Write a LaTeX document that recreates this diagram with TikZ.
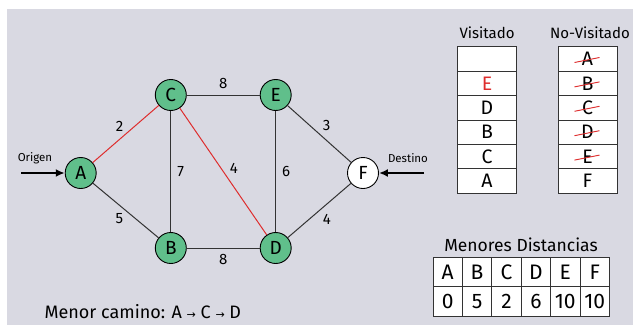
\documentclass[tikz,border=0pt]{standalone}
\usepackage{fontspec}
\setmainfont{Fira Sans}
\newfontfamily\symfont{DejaVu Sans}
\usetikzlibrary{arrows.meta}
\definecolor{bgray}{RGB}{217,217,226}
\definecolor{vgreen}{RGB}{96,191,139}
\definecolor{pathred}{RGB}{222,45,45}
\tikzset{
  vertex/.style={circle, draw=black, line width=0.9pt, fill=vgreen, minimum size=31pt, inner sep=0pt, font=\fontsize{19}{19}\selectfont},
  edge/.style={line width=1pt, draw=black!80},
  redge/.style={line width=1pt, draw=pathred},
  weight/.style={font=\fontsize{15}{15}\selectfont, inner sep=1pt},
  cell/.style={draw=black!80, line width=0.9pt, fill=white, minimum width=59pt, minimum height=24.5pt, inner sep=0pt, font=\fontsize{19.5}{19.5}\selectfont},
  dcell/.style={draw=black!80, line width=0.9pt, fill=white, minimum width=29.4pt, minimum height=29.5pt, inner sep=0pt, font=\fontsize{21}{21}\selectfont},
  strike/.style={line width=0.9pt, draw=pathred},
  ioarrow/.style={line width=2.2pt, -{Latex[length=9pt,width=8pt]}},
}
\begin{document}
\begin{tikzpicture}[x=1pt, y=-1pt]
	%%%%% START %%%%%
	\useasboundingbox (0,0) rectangle (633,327);
	\fill[bgray] (7,9) rectangle (633,325);

	% graph
	\node[vertex] (A) at (80.7,173) {A};
	\node[vertex] (C) at (170.8,95) {C};
	\node[vertex] (E) at (275.7,95) {E};
	\node[vertex] (B) at (170.8,248) {B};
	\node[vertex] (D) at (275.7,248) {D};
	\node[vertex, fill=white] (F) at (363,173) {F};

	\draw[redge] (A) -- node[weight, above left=1pt] (wAC) {2} (C);
	\draw[edge] (A) -- node[weight, below left=1pt] (wAB) {5} (B);
	\draw[edge] (C) -- node[weight, above=5pt] (wCE) {8} (E);
	\draw[edge] (C) -- node[weight, right=5pt] (wCB) {7} (B);
	\draw[redge] (C) -- node[weight, right=5pt, yshift=3pt] (wCD) {4} (D);
	\draw[edge] (E) -- node[weight, right=5pt] (wED) {6} (D);
	\draw[edge] (B) -- node[weight, below=5pt] (wBD) {8} (D);
	\draw[edge] (E) -- node[weight, above right=2pt] (wEF) {3} (F);
	\draw[edge] (D) -- node[weight, below right=2pt] (wDF) {4} (F);

	% origen / destino
	\coordinate (orig) at (21,173);
	\coordinate (dest) at (424,173);
	\draw[ioarrow] (orig) -- (A);
	\draw[ioarrow] (dest) -- (F);
	\node[font=\fontsize{11.5}{11.5}\selectfont] (origlbl) at (35,158) {Origen};
	\node[font=\fontsize{11.5}{11.5}\selectfont] (destlbl) at (408,158) {Destino};

	\node[anchor=west, font=\fontsize{18}{18}\selectfont] (shortest) at (41,312)
		{Menor camino: A {\symfont\fontsize{11}{11}\selectfont →} C {\symfont\fontsize{11}{11}\selectfont →} D};

	% visitado / no-visitado
	\node[font=\fontsize{15}{15}\selectfont] (vishead) at (487,33) {Visitado};
	\node[font=\fontsize{15}{15}\selectfont] (novishead) at (590,33) {No-Visitado};
	\foreach \lbl/\col [count=\i from 0] in {{}/black, E/pathred, D/black, B/black, C/black, A/black}
		\node[cell, text=\col] (vis\i) at (487,59+24.4*\i) {\lbl};
	\foreach \lbl [count=\i from 0] in {A,B,C,D,E,F}
		\node[cell] (nov\i) at (587.5,59+24.4*\i) {\lbl};
	\foreach \i in {0,...,4}
		\draw[strike] ([shift={(-13,3.5)}]nov\i.center) -- ([shift={(12,-1.5)}]nov\i.center);

	% menores distancias
	\node[font=\fontsize{17.5}{17.5}\selectfont] (disthead) at (521,245) {Menores Distancias};
	\foreach \v/\d [count=\i from 0] in {A/0, B/5, C/2, D/6, E/10, F/10} {
		\node[dcell] (dh\i) at (447.7+29.4*\i,272) {\v};
		\node[dcell] (dv\i) at (447.7+29.4*\i,301.5) {\d};
	}
	%%%%% END %%%%%
\end{tikzpicture}
\end{document}
